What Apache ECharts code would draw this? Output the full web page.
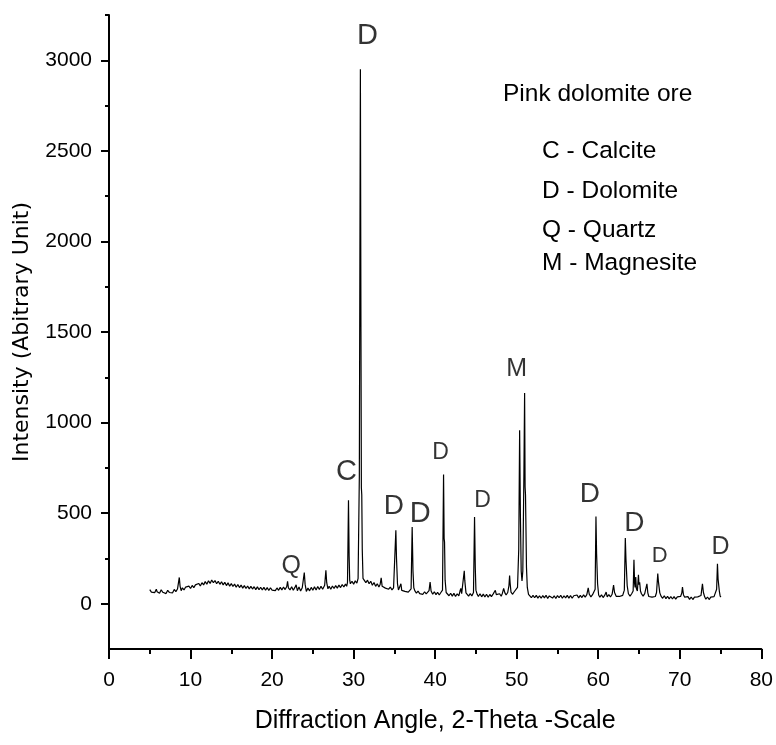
<!DOCTYPE html>
<html>
<head>
<meta charset="utf-8">
<title>Pink dolomite ore – XRD pattern</title>
<script src="https://cdn.jsdelivr.net/npm/echarts@6.0.0/dist/echarts.min.js"></script>
<style>
  html, body { margin: 0; padding: 0; background: #fff; }
  #chart { width: 776px; height: 745px; }
</style>
</head>
<body>
<div id="chart"></div>
<script>
// Diffraction scan, [2-theta (deg), intensity (counts)]
const scanLow = [
  [5.0,78],[5.2,64],[5.4,74],[5.6,61],[5.8,80],[5.9,66],[6.0,70],[6.2,58],[6.4,77],[6.6,63],
  [6.8,69],[7.0,56],[7.2,74],[7.4,62],[7.6,71],[7.8,60],[8.0,79],[8.2,67],[8.4,81],[8.52,86],
  [8.62,145],[8.72,96],[8.85,72],[9.0,88],[9.2,76],[9.4,92],[9.6,81],[9.8,97],[10.0,84],[10.2,101],
  [10.4,89],[10.6,104],[10.8,93],[11.0,112],[11.2,98],[11.4,116],[11.6,104],[11.8,122],[12.0,108],[12.2,127],
  [12.4,112],[12.6,131],[12.8,116],[13.0,128],[13.2,110],[13.4,124],[13.6,107],[13.8,121],[14.0,104],[14.2,118],
  [14.4,100],[14.6,115],[14.8,97],[15.0,111],[15.2,95],[15.4,108],[15.6,91],[15.8,106],[16.0,89],[16.2,103],
  [16.4,86],[16.6,100],[16.8,84],[17.0,98],[17.2,82],[17.4,96],[17.6,81],[17.8,94],[18.0,78],[18.2,93],
  [18.4,77],[18.6,91],[18.8,76],[19.0,90],[19.2,74],[19.4,89],[19.6,73],[19.8,88],[20.0,75],[20.2,86],
  [20.4,72],[20.6,87],[20.8,74],[21.0,90],[21.2,76],[21.4,92],[21.6,78],[21.8,95],[21.9,124],[22.0,88],
  [22.2,76],[22.4,94],[22.6,74],[22.8,90],[22.95,104],[23.1,72],[23.3,92],[23.5,70],[23.7,88],[23.85,98],
  [23.95,172],[24.05,108],[24.2,68],[24.4,86],[24.6,71],[24.8,90],[25.0,74],[25.2,93],[25.4,76],[25.6,95],
  [25.8,78],[26.0,96],[26.2,80],[26.45,102],[26.6,185],[26.7,116],[26.85,82],[27.0,96],[27.2,80],[27.4,98],
  [27.6,84],[27.8,100],[28.0,86],[28.2,103],[28.4,89],[28.6,106],[28.8,92],[29.0,108],[29.15,96]
];
const scanMid = [
  [29.25,118],[29.3,300],[29.37,571],[29.45,260],[29.52,130],[29.6,110],[29.8,124],[30.0,108],[30.2,126],[30.4,114],
  [30.55,140],[30.7,700],[30.83,2950],[30.9,1500],[30.95,640],[31.0,600],[31.06,300],[31.15,140],[31.3,134],[31.5,116],
  [31.7,130],[31.9,110],[32.1,124],[32.3,102],[32.5,117],[32.7,96],[32.9,110],[33.1,92],[33.25,106],[33.38,143],
  [33.5,96],[33.7,100],[33.9,86],[34.1,95],[34.3,80],[34.5,92],[34.7,76],[34.9,88],[35.05,95],[35.18,405],
  [35.26,250],[35.3,240],[35.38,110],[35.5,76],[35.65,86],[35.8,110],[35.9,74],[36.1,80],[36.3,68],[36.5,78],
  [36.7,64],[36.9,74],[37.05,82],[37.18,423],[37.28,180],[37.38,88],[37.5,72],[37.7,58],[37.9,70],[38.1,56],
  [38.3,67],[38.5,52],[38.7,66],[38.9,54],[39.1,64],[39.25,72],[39.38,119],[39.5,70],[39.7,52],[39.9,66],
  [40.1,50],[40.3,63],[40.5,48],[40.7,62],[40.9,75],[41.03,713],[41.1,360],[41.15,340],[41.22,130],[41.35,62],
  [41.5,60],[41.7,44],[41.9,58],[42.1,42],[42.3,57],[42.5,40],[42.7,55],[42.9,43],[43.05,70],[43.15,85],
  [43.25,56],[43.45,62],[43.57,182],[43.63,130],[43.7,128],[43.78,60],[43.9,52],[44.1,42],[44.3,56],[44.5,43],
  [44.7,62],[44.83,478],[44.92,200],[45.0,75],[45.15,52],[45.3,40],[45.5,55],[45.7,38],[45.9,53],[46.1,37],
  [46.3,52],[46.5,36],[46.7,51],[46.9,39],[47.1,53],[47.25,44],[47.38,74],[47.5,50],[47.7,40],[47.9,55],
  [48.1,41],[48.25,58],[48.4,84],[48.55,60],[48.7,48],[48.9,62],[49.05,100],[49.13,156],[49.2,110],[49.3,64],
  [49.5,52],[49.7,66],[49.9,60],[50.1,90],[50.25,300],[50.36,957],[50.45,500],[50.55,180],[50.65,125],[50.75,180],
  [50.88,700],[50.97,1163],[51.03,644],[51.08,600],[51.12,471],[51.2,200],[51.3,90],[51.45,52],[51.6,44],[51.8,33],
  [52.0,46]
];
const scanHigh = [
  [52.2,33],[52.4,46],[52.6,31],[52.8,44],[53.0,30],[53.2,45],[53.4,32],[53.6,47],[53.8,29],[54.0,43],
  [54.2,47],[54.4,31],[54.6,44],[54.8,29],[55.0,45],[55.2,33],[55.4,47],[55.6,30],[55.8,44],[56.0,32],
  [56.2,46],[56.4,31],[56.6,45],[56.8,30],[57.0,44],[57.2,33],[57.4,48],[57.6,32],[57.8,46],[58.0,34],
  [58.2,49],[58.4,36],[58.6,50],[58.77,88],[58.9,52],[59.1,38],[59.3,50],[59.5,42],[59.62,80],[59.72,482],
  [59.8,275],[59.85,265],[59.92,110],[60.05,48],[60.2,36],[60.4,49],[60.6,34],[60.8,47],[60.97,64],[61.1,38],
  [61.3,50],[61.5,37],[61.7,52],[61.88,103],[62.0,62],[62.2,41],[62.4,52],[62.6,40],[62.8,51],[63.0,46],
  [63.2,75],[63.32,363],[63.4,245],[63.45,235],[63.55,100],[63.7,55],[63.9,42],[64.1,55],[64.28,70],[64.38,243],
  [64.46,110],[64.52,90],[64.6,147],[64.68,82],[64.8,70],[64.93,160],[65.0,105],[65.08,118],[65.18,70],[65.3,55],
  [65.5,42],[65.7,56],[65.85,60],[65.97,110],[66.08,60],[66.2,40],[66.4,49],[66.6,36],[66.8,47],[67.0,40],
  [67.15,62],[67.3,166],[67.38,122],[67.44,118],[67.55,60],[67.7,42],[67.9,30],[68.1,44],[68.3,28],[68.5,41],
  [68.7,27],[68.9,40],[69.1,26],[69.3,39],[69.5,25],[69.7,38],[69.9,28],[70.1,40],[70.25,60],[70.33,92],
  [70.45,50],[70.6,36],[70.8,26],[71.0,39],[71.2,24],[71.4,37],[71.6,23],[71.8,36],[72.0,25],[72.2,38],
  [72.4,28],[72.6,45],[72.78,110],[72.9,62],[73.05,38],[73.2,25],[73.4,37],[73.6,23],[73.8,36],[74.0,26],
  [74.2,39],[74.4,42],[74.52,80],[74.62,221],[74.7,135],[74.76,129],[74.85,70],[74.95,42],[75.05,37]
];

// Phase identification of the labelled reflections
const peakPhases  = ['Q', 'C', 'D', 'D', 'D', 'D', 'D', 'M', 'D', 'D', 'D', 'D'];
const peakAngles  = [23.95, 29.37, 30.83, 35.18, 37.18, 41.03, 44.83, 50.97, 59.72, 63.32, 67.3, 74.62];
const peakHeights = [172, 571, 2950, 405, 423, 713, 478, 1163, 482, 363, 166, 221];

// Axis ticks
const xTicks = [0, 10, 20, 30, 40, 50, 60, 70, 80];
const yMajorTicks = [0, 500, 1000, 1500, 2000, 2500, 3000];
const yMinorTicks = [250, 750, 1250, 1750, 2250, 2750, 3250];

// Key text
const sampleName = 'Pink dolomite ore';
const phaseKey = ['C - Calcite', 'D - Dolomite', 'Q - Quartz', 'M - Magnesite'];

// ---- layout / styling ----
function hasFont(name) {
  const ctx = document.createElement('canvas').getContext('2d');
  const probe = 'Diffraction 3000 Wmli';
  ctx.font = '40px monospace';
  const a = ctx.measureText(probe).width;
  ctx.font = '40px "' + name + '", monospace';
  const b = ctx.measureText(probe).width;
  return a !== b;
}
const narrowFace = ['Liberation Sans Narrow', 'Arial Narrow', 'Nimbus Sans Narrow'].find(hasFont);
const NARROW = narrowFace ? '"' + narrowFace + '", sans-serif' : '"Liberation Sans", Arial, sans-serif';
const SANS = '"Liberation Sans", Arial, sans-serif';
// sizes: [with a narrow face, with the regular face]
const sz = (narrowPx, regularPx) => (narrowFace ? narrowPx : regularPx);

// label offsets (px) and font sizes (narrow face) for each phase letter
const peakLabelLayout = [
  { dx: -13, dy: -6,  size: 28 },
  { dx: -2,  dy: -28, size: 32 },
  { dx: 7,   dy: -33, size: 32 },
  { dx: -2,  dy: -24, size: 31 },
  { dx: 8,   dy: -13, size: 32 },
  { dx: -3,  dy: -22, size: 25 },
  { dx: 8,   dy: -16, size: 25 },
  { dx: -8,  dy: -24, size: 28 },
  { dx: -6,  dy: -22, size: 31 },
  { dx: 9,   dy: -15, size: 31 },
  { dx: 2,   dy: -18, size: 24 },
  { dx: 3,   dy: -17, size: 28 }
];

const scan = scanLow.concat(scanMid, scanHigh);

const labelData = peakPhases.map((p, i) => ({
  value: [peakAngles[i], peakHeights[i]],
  name: p,
  label: {
    offset: [peakLabelLayout[i].dx, peakLabelLayout[i].dy],
    fontSize: sz(peakLabelLayout[i].size, Math.round(peakLabelLayout[i].size * 0.9))
  }
}));

const black = '#000';
const chart = echarts.init(document.getElementById('chart'), null, { renderer: 'canvas' });

const graphic = [{
  type: 'text', x: 503, y: 94,
  style: { text: sampleName, font: '24.5px ' + SANS, fill: black, align: 'left', verticalAlign: 'middle' }
}];
const keyY = [151, 191.5, 230.5, 263.7];
phaseKey.forEach((t, i) => {
  graphic.push({
    type: 'text', x: 542, y: keyY[i],
    style: { text: t, font: '24.5px ' + SANS, fill: black, align: 'left', verticalAlign: 'middle' }
  });
});

chart.setOption({
  animation: false,
  backgroundColor: '#fff',
  grid: { left: 109, top: 15, width: 654, height: 634, containLabel: false },
  xAxis: {
    type: 'value',
    min: 0, max: 80, interval: 10,
    name: 'Diffraction Angle, 2-Theta -Scale',
    nameLocation: 'middle',
    nameGap: sz(58, 60),
    nameTextStyle: { color: black, fontFamily: NARROW, fontSize: sz(30, 25) },
    axisLine: { onZero: false, lineStyle: { color: black, width: 2 } },
    axisTick: { inside: false, length: 10, lineStyle: { color: black, width: 2 } },
    minorTick: { show: true, splitNumber: 2, length: 5, lineStyle: { color: black, width: 2 } },
    axisLabel: {
      color: black, fontFamily: NARROW, fontSize: sz(23, 21), margin: 21,
      customValues: xTicks,
      formatter: v => String(v)
    },
    splitLine: { show: false },
    minorSplitLine: { show: false }
  },
  yAxis: [{
    type: 'value',
    min: -250, max: 3250,
    name: 'Intensity (Abitrary Unit)',
    nameLocation: 'middle',
    nameRotate: 90,
    nameGap: 76,
    nameTextStyle: { color: black, fontFamily: '"DejaVu Sans", sans-serif', fontSize: 22 },
    axisLine: { onZero: false, lineStyle: { color: black, width: 2 } },
    axisTick: { inside: false, length: 8, customValues: yMajorTicks, lineStyle: { color: black, width: 2 } },
    axisLabel: {
      color: black, fontFamily: NARROW, fontSize: sz(23, 21), margin: 17,
      customValues: yMajorTicks,
      formatter: v => String(v)
    },
    splitLine: { show: false }
  }, {
    type: 'value',
    position: 'left',
    min: -250, max: 3250,
    axisLine: { show: false, onZero: false },
    axisTick: { show: true, inside: false, length: 4, customValues: yMinorTicks, lineStyle: { color: black, width: 2 } },
    axisLabel: { show: false },
    splitLine: { show: false }
  }],
  graphic: graphic,
  series: [{
    type: 'line',
    data: scan,
    showSymbol: false,
    symbol: 'none',
    lineStyle: { color: black, width: 1.2 },
    silent: true,
    z: 2
  }, {
    type: 'scatter',
    data: labelData,
    symbolSize: 0,
    silent: true,
    z: 3,
    label: {
      show: true,
      position: 'inside',
      color: black,
      fontFamily: NARROW,
      formatter: p => p.name
    }
  }]
});
</script>
</body>
</html>
